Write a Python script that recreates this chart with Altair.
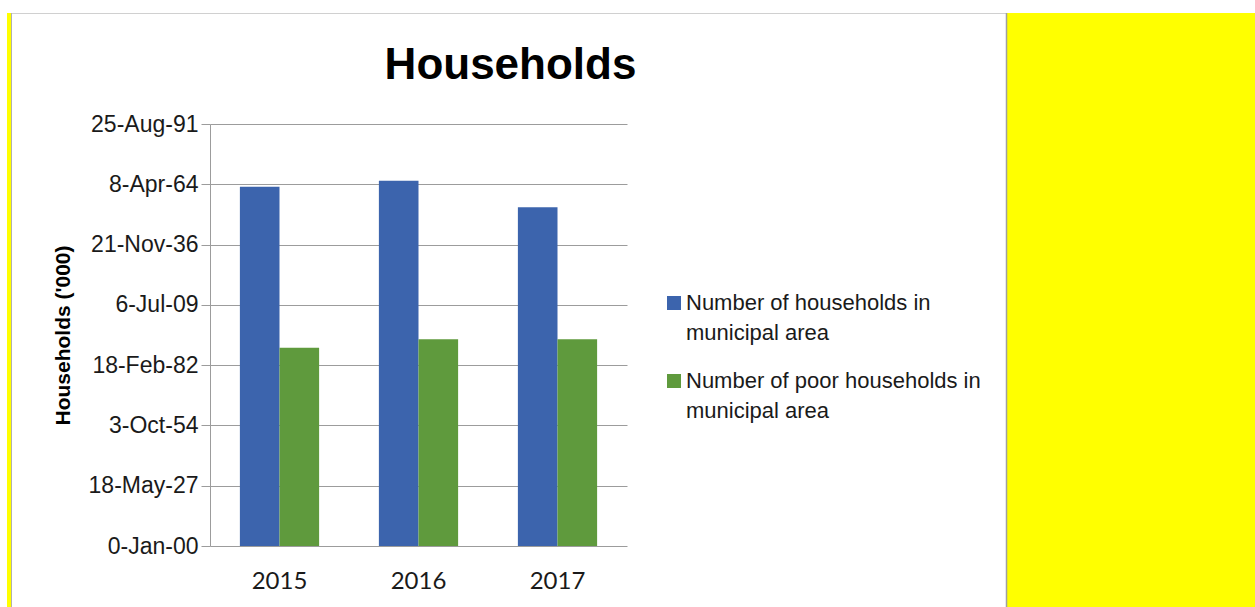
import json
import altair as alt
import pandas as pd

years = ["2015", "2016", "2017"]
series_names = ["Number of households in municipal area",
                "Number of poor households in municipal area"]
households = [59600, 60600, 56200]
poor_households = [32900, 34300, 34300]
tick_values = [0, 10000, 20000, 30000, 40000, 50000, 60000, 70000]
tick_labels = ["0-Jan-00", "18-May-27", "3-Oct-54", "18-Feb-82",
               "6-Jul-09", "21-Nov-36", "8-Apr-64", "25-Aug-91"]
colors = ["#3C64AD", "#5F9A3D"]

rows = []
for i, yr in enumerate(years):
    rows.append({"year": yr, "series": series_names[0], "value": households[i]})
    rows.append({"year": yr, "series": series_names[1], "value": poor_households[i]})
df = pd.DataFrame(rows)

W, H = 417, 422
LEFT, TOP = 210, 124
FONT = "Liberation Sans"
GRID = "#9c9c9c"

label_expr = json.dumps(tick_labels) + "[round(datum.value / 10000)]"

one = pd.DataFrame({"k": [0]})

yellow_panel = alt.Chart(one).mark_rect(color="#FFFF00").encode(
    x=alt.value(1007 - LEFT), x2=alt.value(1255 - LEFT),
    y=alt.value(13 - TOP), y2=alt.value(607 - TOP))
yellow_strip = alt.Chart(one).mark_rect(color="#FFFF00").encode(
    x=alt.value(7 - LEFT), x2=alt.value(11 - LEFT),
    y=alt.value(13 - TOP), y2=alt.value(607 - TOP))
top_line = alt.Chart(one).mark_rule(color="#d0d0d0", strokeWidth=1).encode(
    x=alt.value(11 - LEFT), x2=alt.value(1007 - LEFT), y=alt.value(13.5 - TOP))
left_line = alt.Chart(one).mark_rule(color="#b0b0b0", strokeWidth=1).encode(
    x=alt.value(11.5 - LEFT), y=alt.value(13 - TOP), y2=alt.value(607 - TOP))
right_line = alt.Chart(one).mark_rule(color="#a0a0a0", strokeWidth=1.5).encode(
    x=alt.value(1006.5 - LEFT), y=alt.value(13 - TOP), y2=alt.value(607 - TOP))

bars = alt.Chart(df).mark_bar().encode(
    x=alt.X("year:N", sort=years, title=None,
            scale=alt.Scale(paddingInner=0.43, paddingOuter=0.215),
            axis=alt.Axis(labelAngle=0, domain=False, ticks=False, grid=False,
                          labelFont="Lato", labelFontSize=24, labelColor="#1a1a1a",
                          labelPadding=23)),
    xOffset=alt.XOffset("series:N", sort=series_names,
                        scale=alt.Scale(domain=series_names)),
    y=alt.Y("value:Q", scale=alt.Scale(domain=[0, 70000], nice=False),
            axis=alt.Axis(values=tick_values, labelExpr=label_expr,
                          title="Households ('000)", titleFont=FONT,
                          titleFontSize=21, titleFontWeight="bold",
                          titleColor="black", titlePadding=15,
                          labelFont=FONT, labelFontSize=23, labelColor="#1a1a1a",
                          labelPadding=3, grid=True, gridColor=GRID,
                          domainColor=GRID, tickColor=GRID, tickSize=9)),
    color=alt.Color("series:N", sort=series_names,
                    scale=alt.Scale(domain=series_names, range=colors),
                    legend=alt.Legend(orient="none", legendX=453, legendY=168,
                                      title=None, symbolType="square",
                                      symbolSize=196, symbolStrokeWidth=0,
                                      labelFont=FONT, labelFontSize=22,
                                      labelColor="#1a1a1a", labelLimit=500,
                                      labelOffset=1, rowPadding=26,
                                      labelExpr="split(replace(datum.label, ' municipal', '|municipal'), '|')")),
)

chart = alt.layer(yellow_panel, yellow_strip, top_line, left_line, right_line, bars).properties(
    width=W, height=H,
    title=alt.TitleParams("Households", font=FONT, fontSize=44, fontWeight="bold",
                          color="black", anchor="middle", dx=92, offset=0, dy=76),
    padding={"left": LEFT, "top": TOP, "right": 1255 - LEFT - W, "bottom": 607 - TOP - H},
    autosize="none",
    background="white",
).configure(view=alt.ViewConfig(stroke=None),
            style={"guide-label": {"lineHeight": 30}})

chart.save("out.html", embed_options={"renderer": "svg", "actions": False})
